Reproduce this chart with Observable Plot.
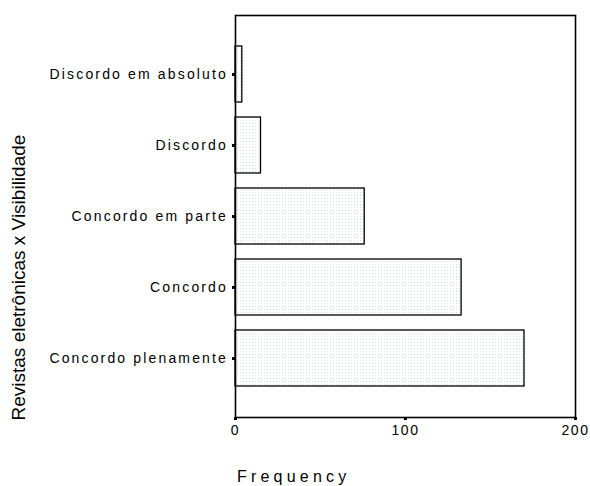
<!DOCTYPE html>
<html>
<head>
<meta charset="utf-8">
<script src="https://cdn.jsdelivr.net/npm/d3@7"></script>
<script src="https://cdn.jsdelivr.net/npm/@observablehq/plot@0.6"></script>
<style>
  html, body { margin: 0; padding: 0; background: white; }
</style>
</head>
<body>
<div id="chart"></div>
<script>
const categories = ["Discordo em absoluto", "Discordo", "Concordo em parte", "Concordo", "Concordo plenamente"];
const frequencies = [4, 15, 76, 133, 170];
const xTicks = [0, 100, 200];
const xLabel = "Frequency";
const yLabel = "Revistas eletrônicas x Visibilidade";

const data = categories.map((c, i) => ({category: c, frequency: frequencies[i]}));

const svg = Plot.plot({
  width: 590,
  height: 486,
  marginLeft: 235,
  marginRight: 15,
  marginTop: 15,
  marginBottom: 69,
  style: {fontFamily: "'Liberation Sans', Arial, sans-serif", fontSize: "14px", color: "black", background: "white"},
  x: {domain: [0, 200]},
  y: {domain: categories, paddingInner: 0.21, paddingOuter: 0.42},
  marks: [
    Plot.barX(data, {x: "frequency", y: "category", fill: "#eef3f3", stroke: "black", strokeWidth: 1.3}),
    Plot.frame({stroke: "black", strokeWidth: 1.6}),
    Plot.axisX({ticks: xTicks, tickSize: 3, strokeWidth: 3, tickPadding: 5, fontSize: 14, label: null}),
    Plot.axisY({tickSize: 3, strokeWidth: 3, tickPadding: 0, fontSize: 14, label: null}),
    Plot.text([xLabel], {text: d => d, frameAnchor: "bottom-left", textAnchor: "start", lineAnchor: "middle",
      dx: 1.5, dy: 59.5, fontSize: 16, fill: "black"}),
    Plot.text([yLabel], {text: d => d, frameAnchor: "bottom-left", textAnchor: "start", lineAnchor: "middle",
      rotate: -90, dx: -216.7, dy: 3, fontSize: 19, fill: "black"})
  ]
});

const s = d3.select(svg);
const defs = s.insert("defs", ":first-child");
const pat = defs.append("pattern").attr("id", "dots").attr("width", 3).attr("height", 3).attr("patternUnits", "userSpaceOnUse");
pat.append("rect").attr("width", 3).attr("height", 3).attr("fill", "white");
pat.append("rect").attr("width", 1).attr("height", 1).attr("fill", "#d3dfdf");
s.selectAll("g[aria-label='bar']").attr("fill", "url(#dots)");
s.selectAll("g[aria-label='y-axis tick label']").style("letter-spacing", "2.15px")
  .selectAll("text").attr("dx", -4.5);
s.selectAll("g[aria-label='x-axis tick label']").style("letter-spacing", "1.5px");
const textGroups = s.selectAll("g[aria-label='text']");
textGroups.filter((d, i) => i === 0).style("letter-spacing", "4.2px");
textGroups.filter((d, i) => i === 1).style("letter-spacing", "0px");

document.getElementById("chart").appendChild(svg);
</script>
</body>
</html>
